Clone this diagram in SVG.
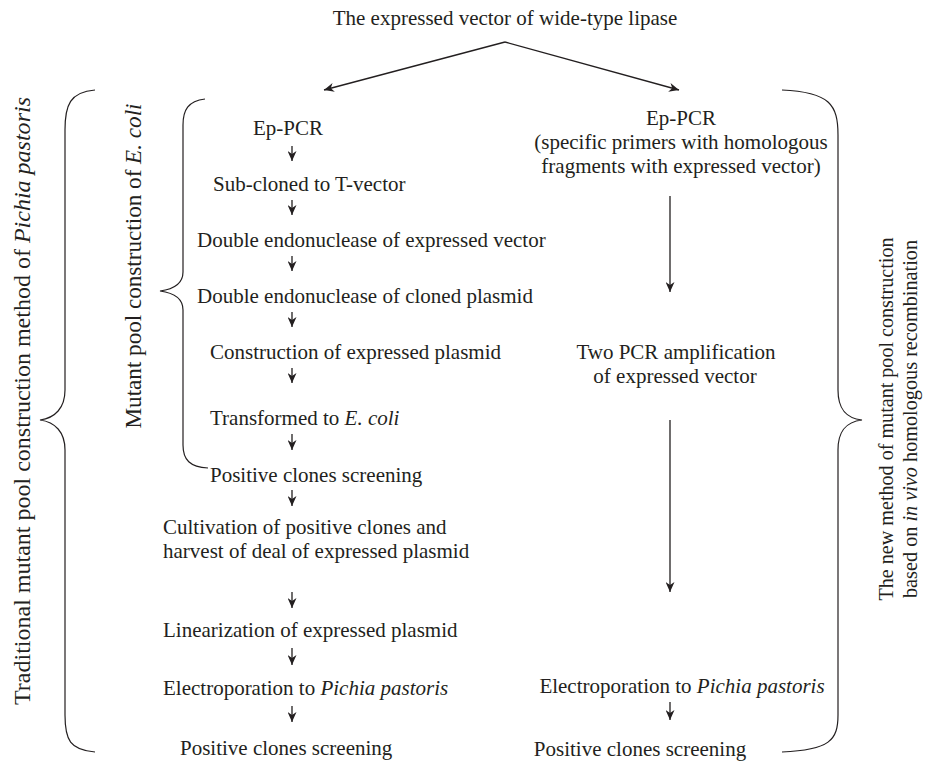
<svg xmlns="http://www.w3.org/2000/svg" width="925" height="761" viewBox="0 0 925 761" font-family="'Liberation Serif', 'DejaVu Serif', serif">
<style>
text{font-family:'Liberation Serif','DejaVu Serif',serif;font-size:21px;fill:#231f20}
.v{font-size:23px}
.v2{font-size:20px}
.c{text-anchor:middle}
.ln{stroke:#231f20;stroke-width:1.3;fill:none}
.br{stroke:#231f20;stroke-width:1.2;fill:none}
</style>
<defs>
<marker id="ah" markerWidth="10" markerHeight="9" refX="10" refY="4.5" orient="auto" markerUnits="userSpaceOnUse">
<path d="M0,0 L10,4.5 L0,9 L3,4.5 z" fill="#231f20"/>
</marker>
</defs>
<rect width="925" height="761" fill="#fff"/>
<g id="title"><text x="505" y="25" class="c">The expressed vector of wide-type lipase</text></g>
<g id="braces">
<path id="brace-left" class="br" d="M95,90 C70,92 65,105 65,130 L65,390 C65,408 55,418 40,420 C55,422 65,432 65,450 L65,715 C65,740 70,750 95,752"/>
<path id="brace-inner" class="br" d="M205,99 C188,101 183,110 183,125 L183,272 C183,283 175,289 160,291 C175,293 183,299 183,310 L183,445 C183,460 190,467 208,468"/>
<path id="brace-right" class="br" d="M782,90 C830,92 838,105 838,135 L838,390 C838,408 845,418 862,420 C845,422 838,432 838,450 L838,715 C838,740 830,750 782,752"/>
</g>
<g id="label-traditional"><text class="v c" transform="translate(30,401) rotate(-90)" textLength="608" lengthAdjust="spacingAndGlyphs">Traditional mutant pool construction method of <tspan font-style="italic">Pichia pastoris</tspan></text></g>
<g id="label-ecoli"><text class="v c" transform="translate(141,266) rotate(-90)" textLength="325" lengthAdjust="spacingAndGlyphs">Mutant pool construction of <tspan font-style="italic">E. coli</tspan></text></g>
<g id="label-new"><text class="v2 c" transform="translate(893,419) rotate(-90)" textLength="363" lengthAdjust="spacingAndGlyphs">The new method of mutant pool construction</text>
<text class="v2 c" transform="translate(917,419) rotate(-90)" textLength="358" lengthAdjust="spacingAndGlyphs">based on <tspan font-style="italic">in vivo</tspan> homologous recombination</text></g>
<g id="n-l1"><text x="253" y="135">Ep-PCR</text></g>
<g id="n-l2"><text x="213" y="191">Sub-cloned to T-vector</text></g>
<g id="n-l3"><text x="197" y="247">Double endonuclease of expressed vector</text></g>
<g id="n-l4"><text x="197" y="303">Double endonuclease of cloned plasmid</text></g>
<g id="n-l5"><text x="210" y="359">Construction of expressed plasmid</text></g>
<g id="n-l6"><text x="210" y="425">Transformed to <tspan font-style="italic">E. coli</tspan></text></g>
<g id="n-l7"><text x="210" y="482">Positive clones screening</text></g>
<g id="n-l8"><text x="163" y="534">Cultivation of positive clones and</text><text x="163" y="558">harvest of deal of expressed plasmid</text></g>
<g id="n-l9"><text x="163" y="637">Linearization of expressed plasmid</text></g>
<g id="n-l10"><text x="163" y="695">Electroporation to <tspan font-style="italic">Pichia pastoris</tspan></text></g>
<g id="n-l11"><text x="180" y="755">Positive clones screening</text></g>
<g id="n-r1"><text x="681" y="125" class="c">Ep-PCR</text><text x="681" y="149" class="c">(specific primers with homologous</text><text x="681" y="173" class="c">fragments with expressed vector)</text></g>
<g id="n-r2"><text x="676" y="359" class="c">Two PCR amplification</text><text x="675" y="383" class="c">of expressed vector</text></g>
<g id="n-r3"><text x="682" y="693" class="c">Electroporation to <tspan font-style="italic">Pichia pastoris</tspan></text></g>
<g id="n-r4"><text x="640" y="756" class="c">Positive clones screening</text></g>
<g id="connectors">
<line class="ln" x1="505" y1="42" x2="324" y2="90" marker-end="url(#ah)"/>
<line class="ln" x1="505" y1="42" x2="679" y2="90" marker-end="url(#ah)"/>
<line class="ln" x1="292" y1="146" x2="292" y2="161" marker-end="url(#ah)"/>
<line class="ln" x1="292" y1="200" x2="292" y2="215" marker-end="url(#ah)"/>
<line class="ln" x1="292" y1="256" x2="292" y2="271" marker-end="url(#ah)"/>
<line class="ln" x1="292" y1="312" x2="292" y2="327" marker-end="url(#ah)"/>
<line class="ln" x1="292" y1="368" x2="292" y2="383" marker-end="url(#ah)"/>
<line class="ln" x1="292" y1="434" x2="292" y2="450" marker-end="url(#ah)"/>
<line class="ln" x1="292" y1="490" x2="292" y2="506" marker-end="url(#ah)"/>
<line class="ln" x1="292" y1="592" x2="292" y2="608" marker-end="url(#ah)"/>
<line class="ln" x1="292" y1="648" x2="292" y2="665" marker-end="url(#ah)"/>
<line class="ln" x1="292" y1="706" x2="292" y2="722" marker-end="url(#ah)"/>
<line class="ln" x1="670" y1="196" x2="670" y2="292" marker-end="url(#ah)"/>
<line class="ln" x1="670" y1="420" x2="670" y2="592" marker-end="url(#ah)"/>
<line class="ln" x1="670" y1="702" x2="670" y2="720" marker-end="url(#ah)"/>
</g>
</svg>
